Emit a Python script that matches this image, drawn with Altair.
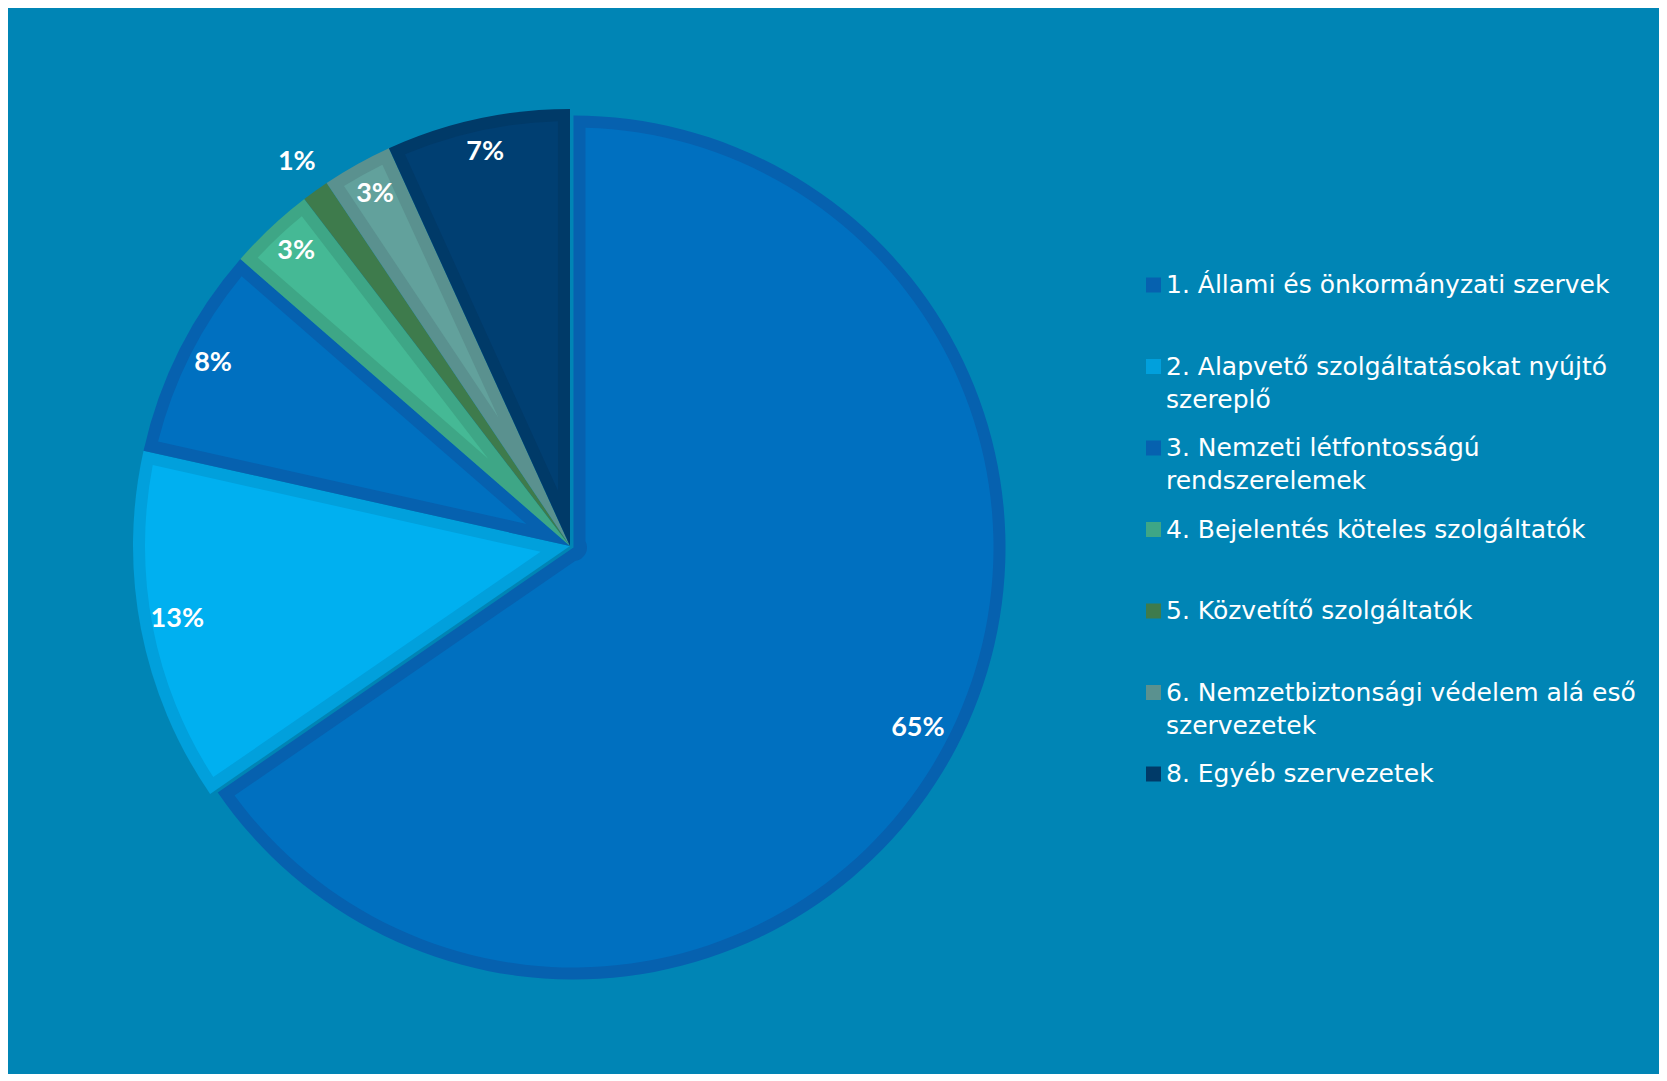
import math
import altair as alt
import pandas as pd

categories = [
    "1. Állami és önkormányzati szervek",
    "2. Alapvető szolgáltatásokat nyújtó szereplő",
    "3. Nemzeti létfontosságú rendszerelemek",
    "4. Bejelentés köteles szolgáltatók",
    "5. Közvetítő szolgáltatók",
    "6. Nemzetbiztonsági védelem alá eső szervezetek",
    "8. Egyéb szervezetek",
]
legend_line1 = [
    "1. Állami és önkormányzati szervek",
    "2. Alapvető szolgáltatásokat nyújtó",
    "3. Nemzeti létfontosságú",
    "4. Bejelentés köteles szolgáltatók",
    "5. Közvetítő szolgáltatók",
    "6. Nemzetbiztonsági védelem alá eső",
    "8. Egyéb szervezetek",
]
legend_line2 = ["", "szereplő", "rendszerelemek", "", "", "szervezetek", ""]
# shares (percent)
values = [65.4, 13.1, 7.9, 3.2, 1.0, 2.6, 6.8]
pct_labels = ["65%", "13%", "8%", "3%", "1%", "3%", "7%"]
order = [1, 2, 3, 4, 5, 6, 7]

fill_colors = ["#0070C0", "#00B0F0", "#0070C0", "#45B995", "#3E7B4C", "#62A19C", "#003F72"]
border_colors = ["#0661AF", "#01A0DC", "#0661AF", "#3EA686", "#3E7B4C", "#5A918F", "#003A68"]

BG = "#0085B5"
BW = 12  # border width
LABEL_FONT = "Lato"
LEGEND_FONT = "DejaVu Sans"

df = pd.DataFrame({
    "category": categories,
    "order": order,
    "value": values,
    "label": pct_labels,
    "line1": legend_line1,
    "line2": legend_line2,
})


def base():
    return (
        alt.Chart(df)
        .transform_joinaggregate(total="sum(value)")
        .transform_window(cum="sum(value)", sort=[alt.SortField("order")], frame=[None, 0])
        .transform_calculate(
            t1="datum.cum / datum.total",
            t0="(datum.cum - datum.value) / datum.total",
        )
        .transform_calculate(mid="(datum.t0 + datum.t1) / 2")
    )


theta_scale = alt.Scale(domain=[0, 1], range=[0, 2 * math.pi])
border_scale = alt.Scale(domain=categories, range=border_colors)
fill_scale = alt.Scale(domain=categories, range=fill_colors)


def pie_group(filter_expr, cx, cy, R, lab_r, lab_dy):
    b = base().transform_filter(filter_expr)
    theta = alt.Theta("t0:Q", scale=theta_scale, stack=False)
    border = b.mark_arc(outerRadius=R, innerRadius=0).encode(
        theta=theta,
        theta2="t1:Q",
        x=alt.value(cx),
        y=alt.value(cy),
        color=alt.Color("category:N", scale=border_scale, legend=None),
    )
    pad = 2 * math.asin(BW / (R - BW))
    fill = (
        b.transform_calculate(
            r0=f"min({BW} / max(sin(PI * (datum.t1 - datum.t0)), 0.001), {R - BW - 1})",
            r1=f"{R - BW}",
        )
        .mark_arc(padAngle=pad)
        .encode(
            theta=theta,
            theta2="t1:Q",
            radius=alt.Radius("r1:Q", scale=None),
            radius2=alt.Radius2("r0:Q"),
            x=alt.value(cx),
            y=alt.value(cy),
            color=alt.Color("category:N", scale=fill_scale, legend=None),
        )
    )
    labels = (
        b.transform_calculate(
            lr=f"datum.value < 2 ? {R * 1.073} : {lab_r}",
        )
        .transform_calculate(
            lx=f"{cx} + datum.lr * sin(2 * PI * datum.mid)",
            ly=f"{cy} - datum.lr * cos(2 * PI * datum.mid)",
        )
        .mark_text(font=LABEL_FONT, fontWeight="bold", fontSize=27, color="white",
                   align="center", baseline="middle", dy=lab_dy)
        .encode(
            x=alt.X("lx:Q", scale=None, axis=None),
            y=alt.Y("ly:Q", scale=None, axis=None),
            text="label:N",
        )
    )
    return [border, fill, labels]


group_b = pie_group("datum.order != 1", 562, 538, 437, 400, -3)
group_a = pie_group("datum.order == 1", 565.5, 539.5, 432, 389, 0)

y_leg = alt.Y(
    "order:O",
    scale=alt.Scale(type="point", domain=order, range=[277, 766], padding=0),
    axis=None,
)
leg = alt.Chart(df)
squares = leg.mark_square(size=225, opacity=1).encode(
    x=alt.value(1145.5),
    y=y_leg,
    color=alt.Color("category:N", scale=border_scale, legend=None),
)
text1 = leg.mark_text(align="left", baseline="middle", font=LEGEND_FONT, fontSize=25,
                      color="white").encode(x=alt.value(1158), y=y_leg, text="line1:N")
text2 = leg.mark_text(align="left", baseline="middle", font=LEGEND_FONT, fontSize=25,
                      color="white", dy=33).encode(x=alt.value(1158), y=y_leg, text="line2:N")

chart = (
    alt.layer(*group_b, *group_a, squares, text1, text2)
    .resolve_scale(color="independent", x="independent", y="independent")
    .properties(width=1651, height=1066, padding=0, autosize="none")
    .configure(background=BG)
    .configure_view(stroke=None)
)

chart.save("out.html", embed_options={"renderer": "svg", "actions": False})
